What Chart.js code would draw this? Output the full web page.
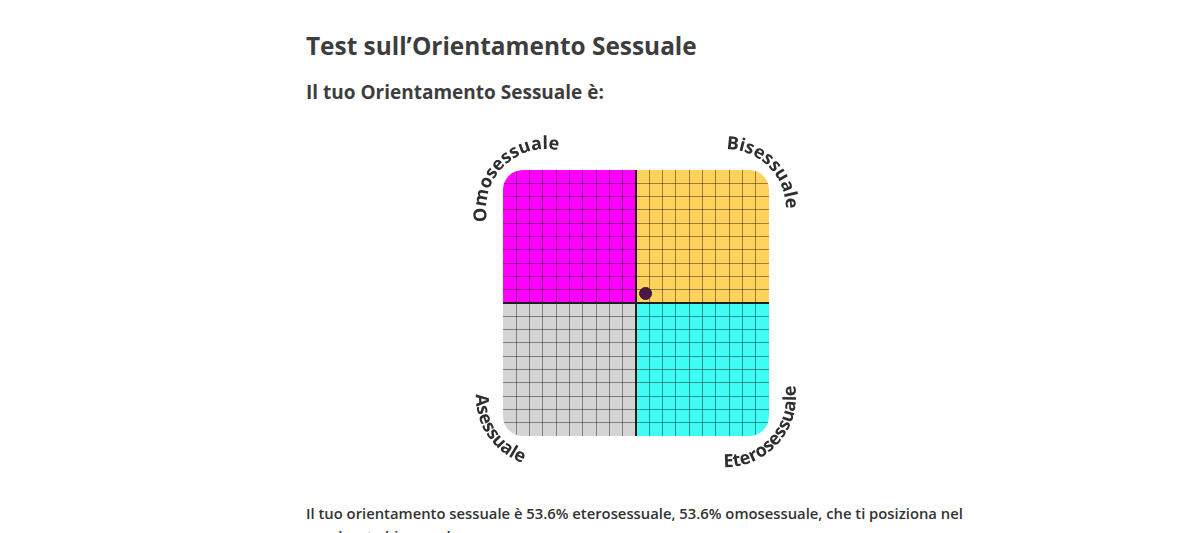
<!DOCTYPE html>
<html>
<head>
<meta charset="utf-8">
<script src="https://cdn.jsdelivr.net/npm/chart.js@4/dist/chart.umd.min.js"></script>
<style>
html,body{margin:0;padding:0;background:#fff;width:1200px;height:533px;overflow:hidden;font-family:"Open Sans",sans-serif;color:#3d3d3d}
#title{position:absolute;left:306px;top:31px;font-size:24.4px;font-weight:700;line-height:30px;white-space:nowrap}
#sub{position:absolute;left:306px;top:80px;font-size:19px;font-weight:700;line-height:24px;white-space:nowrap}
#wrap{position:absolute;left:436px;top:120px;width:400px;height:370px}
#note{position:absolute;left:306px;top:502px;width:680px;font-size:14.8px;font-weight:600;line-height:23px;color:#333}
</style>
</head>
<body>
<div id="title">Test sull’Orientamento Sessuale</div>
<div id="sub">Il tuo Orientamento Sessuale è:</div>
<div id="wrap"><canvas id="c" width="400" height="370"></canvas></div>
<div id="note">Il tuo orientamento sessuale è 53.6% eterosessuale, 53.6% omosessuale, che ti posiziona nel quadrante bisessuale.</div>
<script>
// ---- data ----
const quadrantLabels = ['Omosessuale', 'Bisessuale', 'Asessuale', 'Eterosessuale'];
const quadrantColors = ['#ff00ff', '#ffd25e', '#d4d4d4', '#3ffcf4'];
const eterosessuale = [53.6];   // x axis
const omosessuale = [53.6];     // y axis
const axisMin = 0, axisMax = 100, axisMid = 50, gridStep = 5;

const points = eterosessuale.map((v, i) => ({ x: v, y: omosessuale[i] }));

function arcText(ctx, text, cx, cy, r, midDeg, outward, track) {
  const chars = [...text];
  const widths = chars.map(ch => ctx.measureText(ch).width + track);
  const span = widths.reduce((s, w) => s + w, 0) / r;
  const mid = midDeg * Math.PI / 180;
  let a = outward ? mid - span / 2 : mid + span / 2;
  chars.forEach((ch, i) => {
    const w = widths[i] / r;
    const ac = outward ? a + w / 2 : a - w / 2;
    ctx.save();
    ctx.translate(cx + r * Math.cos(ac), cy + r * Math.sin(ac));
    ctx.rotate(outward ? ac + Math.PI / 2 : ac - Math.PI / 2);
    ctx.fillText(ch, 0, 0);
    ctx.restore();
    a = outward ? a + w : a - w;
  });
}

const quadrantPlugin = {
  id: 'quadrants',
  beforeDraw(chart) {
    const { ctx, chartArea: a, scales: { x, y } } = chart;
    ctx.save();
    ctx.beginPath();
    ctx.roundRect(a.left, a.top, a.width, a.height, 20);
    ctx.clip();
    const xl = x.getPixelForValue(axisMin), xm = x.getPixelForValue(axisMid), xr = x.getPixelForValue(axisMax);
    const yt = y.getPixelForValue(axisMax), ym = y.getPixelForValue(axisMid), yb = y.getPixelForValue(axisMin);
    const rects = [[xl, yt, xm, ym], [xm, yt, xr, ym], [xl, ym, xm, yb], [xm, ym, xr, yb]];
    rects.forEach((r, i) => {
      ctx.fillStyle = quadrantColors[i];
      ctx.fillRect(r[0], r[1], r[2] - r[0], r[3] - r[1]);
    });
  },
  afterDraw(chart) {
    const { ctx, chartArea: a } = chart;
    ctx.restore();
    ctx.save();
    ctx.font = '700 18px "Open Sans"';
    ctx.fillStyle = '#2e2e2e';
    ctx.textAlign = 'center';
    ctx.textBaseline = 'alphabetic';
    arcText(ctx, quadrantLabels[0], a.left + 43, a.top + 39, 60, 225, true, 0);
    arcText(ctx, quadrantLabels[1], a.right - 43, a.top + 39, 60, 315, true, 0);
    arcText(ctx, quadrantLabels[2], a.left + 43, a.bottom - 39, 70, 146, false, 0);
    arcText(ctx, quadrantLabels[3], a.right - 43, a.bottom - 39, 70, 41, false, 0);
    ctx.restore();
  }
};

const gridColor = c => c.tick.value === axisMid ? '#1e1e1e'
  : (c.tick.value === axisMin || c.tick.value === axisMax) ? 'rgba(0,0,0,0)' : 'rgba(0,0,0,0.4)';
const gridWidth = c => c.tick.value === axisMid ? 2 : 1;

new Chart(document.getElementById('c'), {
  type: 'scatter',
  data: {
    datasets: [{
      data: points,
      pointRadius: 6,
      pointHoverRadius: 6,
      backgroundColor: '#4a1846',
      borderColor: '#3a1036',
      borderWidth: 1
    }]
  },
  options: {
    responsive: false,
    animation: false,
    events: [],
    layout: { padding: { left: 67, right: 67, top: 50, bottom: 54 } },
    plugins: { legend: { display: false }, tooltip: { enabled: false } },
    scales: {
      x: {
        type: 'linear', min: axisMin, max: axisMax,
        ticks: { display: false, stepSize: gridStep },
        border: { display: false },
        grid: { drawTicks: false, color: gridColor, lineWidth: gridWidth },
        afterFit: s => { s.height = 0; }
      },
      y: {
        type: 'linear', min: axisMin, max: axisMax,
        ticks: { display: false, stepSize: gridStep },
        border: { display: false },
        grid: { drawTicks: false, color: gridColor, lineWidth: gridWidth },
        afterFit: s => { s.width = 0; }
      }
    }
  },
  plugins: [quadrantPlugin]
});
</script>
</body>
</html>
